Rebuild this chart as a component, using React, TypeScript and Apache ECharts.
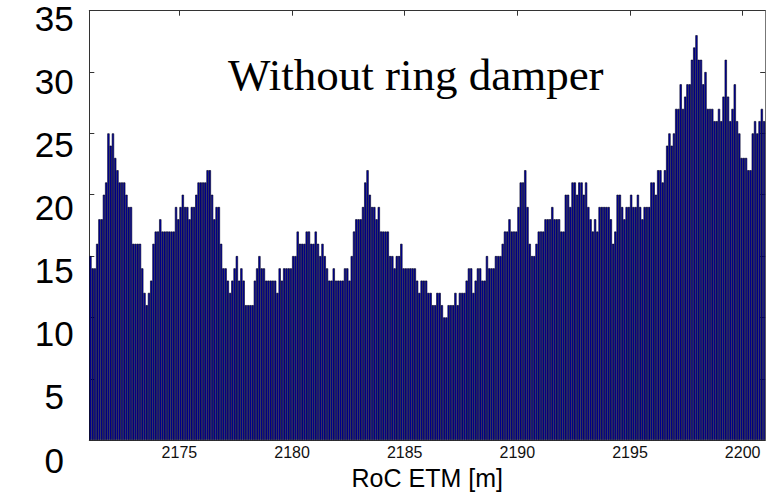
import React, { useEffect, useRef } from "react";
import * as echarts from "echarts";

// Histogram bins: 300 bins of 0.1 m from 2171 to 2201 m
const binStart = 2171;
const binWidth = 0.1;

// Counts per bin, split by region
const counts2171: number[] = [15, 14, 14, 16, 18, 18, 20, 21, 25, 24, 25, 23, 22, 21, 21, 21, 20, 19, 19, 16, 16, 16, 16, 14, 12, 11, 12, 13, 16, 17, 17, 18, 17, 17, 17, 17, 17, 17, 19];
const counts2175: number[] = [18, 19, 20, 19, 19, 18, 19, 19, 20, 21, 21, 21, 21, 22, 22, 20, 18, 19, 19, 16, 14, 14, 13, 12, 13, 14, 15, 13, 14, 13, 11, 11, 11, 11, 13, 14, 15, 14, 14, 13, 13, 13, 13, 13, 12, 14, 13, 14, 14, 14];
const counts2180: number[] = [14, 15, 15, 17, 16, 16, 16, 17, 17, 16, 16, 17, 16, 15, 16, 15, 14, 13, 13, 14, 13, 13, 13, 13, 14, 14, 13, 15, 17, 18, 18, 18, 19, 21, 22, 20, 19, 19, 18, 19, 17, 17, 17, 17, 15, 15, 14, 15, 15, 16, 14];
const counts2185: number[] = [14, 14, 14, 14, 14, 13, 12, 13, 13, 13, 12, 12, 11, 11, 12, 12, 11, 10, 10, 11, 11, 11, 12, 11, 12, 12, 12, 13, 14, 14, 12, 13, 14, 14, 13, 13, 15, 14, 14, 14, 15, 15, 15, 16, 17, 17, 18, 17, 17, 17, 19];
const counts2190: number[] = [21, 21, 22, 19, 16, 15, 15, 16, 17, 17, 17, 18, 18, 18, 19, 18, 18, 18, 17, 17, 20, 20, 19, 21, 21, 20, 21, 21, 20, 21, 19, 18, 17, 18, 17, 19, 19, 19, 19, 19, 18, 16, 17, 20, 20, 19, 18, 19, 19, 20];
const counts2195: number[] = [19, 19, 20, 19, 18, 19, 19, 19, 21, 21, 20, 22, 22, 21, 22, 24, 25, 24, 25, 27, 27, 29, 27, 28, 29, 29, 31, 32, 33, 31, 31, 29, 30, 27, 27, 27, 26, 26, 27, 26, 28, 31, 28, 26, 27, 29, 26, 25, 23, 23, 23, 22, 22, 25, 26, 25, 26, 27, 26];

const counts: number[] = [
  ...counts2171,
  ...counts2175,
  ...counts2180,
  ...counts2185,
  ...counts2190,
  ...counts2195,
];

const xTickValues: number[] = [2175, 2180, 2185, 2190, 2195, 2200];
const xMin = 2171;
const xMax = 2201;
const yMin = 0;
const yMax = 35;
const yStep = 5;

const titleText = "Without ring damper";
const xAxisName = "RoC ETM [m]";

const binCenters: string[] = counts.map((_, i) => (binStart + binWidth * (i + 0.5)).toFixed(2));

export default function App() {
  const ref = useRef<HTMLDivElement>(null);

  useEffect(() => {
    if (!ref.current) return;
    const chart = echarts.init(ref.current, undefined, { renderer: "svg" });
    const sans = "'Liberation Sans', Arial, sans-serif";
    const axisColor = "#333";
    chart.setOption({
      animation: false,
      backgroundColor: "#fff",
      grid: [
        { left: 89.3, right: 3.8, top: 10.7, bottom: 49, show: false },
        { left: 89.3, right: 3.8, top: 18.5, bottom: 35, show: false },
      ],
      xAxis: [
        {
          type: "category",
          gridIndex: 0,
          data: binCenters,
          show: false,
          boundaryGap: true,
        },
        {
          type: "value",
          gridIndex: 0,
          position: "bottom",
          min: xMin,
          max: xMax,
          axisLine: { show: true, lineStyle: { color: axisColor, width: 1 } },
          axisTick: { show: false },
          splitLine: { show: false },
          axisLabel: {
            customValues: xTickValues,
            formatter: (v: number) => String(v),
            fontSize: 16,
            fontFamily: sans,
            color: "#111",
            margin: 4,
          },
          name: xAxisName,
          nameLocation: "middle",
          nameGap: 20,
          nameTextStyle: { fontSize: 25, fontFamily: sans, color: "#000" },
        },
        {
          type: "value",
          gridIndex: 0,
          position: "top",
          min: xMin,
          max: xMax,
          axisLine: { show: true, lineStyle: { color: axisColor, width: 1 } },
          axisTick: {
            show: true,
            inside: true,
            length: 5,
            customValues: xTickValues,
            lineStyle: { color: axisColor },
          },
          axisLabel: { show: false },
          splitLine: { show: false },
        },
        {
          type: "value",
          gridIndex: 1,
          min: xMin,
          max: xMax,
          show: false,
        },
      ],
      yAxis: [
        {
          type: "value",
          gridIndex: 0,
          position: "left",
          min: yMin,
          max: yMax,
          interval: yStep,
          axisLine: { show: true, lineStyle: { color: axisColor, width: 1 } },
          axisTick: { show: true, inside: true, length: 5, lineStyle: { color: axisColor } },
          axisLabel: { show: false },
          splitLine: { show: false },
        },
        {
          type: "value",
          gridIndex: 0,
          position: "right",
          min: yMin,
          max: yMax,
          interval: yStep,
          axisLine: { show: true, lineStyle: { color: "#777", width: 1 } },
          axisTick: { show: true, inside: true, length: 5, lineStyle: { color: axisColor } },
          axisLabel: { show: false },
          splitLine: { show: false },
        },
        {
          type: "value",
          gridIndex: 1,
          position: "left",
          min: yMin,
          max: yMax,
          interval: yStep,
          axisLine: { show: false },
          axisTick: { show: false },
          splitLine: { show: false },
          axisLabel: {
            fontSize: 35,
            lineHeight: 28,
            fontFamily: sans,
            color: "#000",
            align: "center",
            margin: 35,
          },
        },
      ],
      series: [
        {
          type: "bar",
          xAxisIndex: 0,
          yAxisIndex: 0,
          data: counts,
          barCategoryGap: "0%",
          barGap: "0%",
          itemStyle: {
            color: "#0000a6",
            borderColor: "#000018",
            borderWidth: 0.6,
          },
          emphasis: { disabled: true },
        },
      ],
      graphic: [
        {
          type: "text",
          x: 228,
          y: 75,
          z: 10,
          style: {
            text: titleText,
            font: "45px 'Liberation Serif', 'Times New Roman', serif",
            fill: "#000",
            align: "left",
            verticalAlign: "middle",
          },
        },
      ],
    });
    return () => chart.dispose();
  }, []);

  return <div ref={ref} style={{ width: 769, height: 495, position: "absolute", left: 0, top: 0 }} />;
}
